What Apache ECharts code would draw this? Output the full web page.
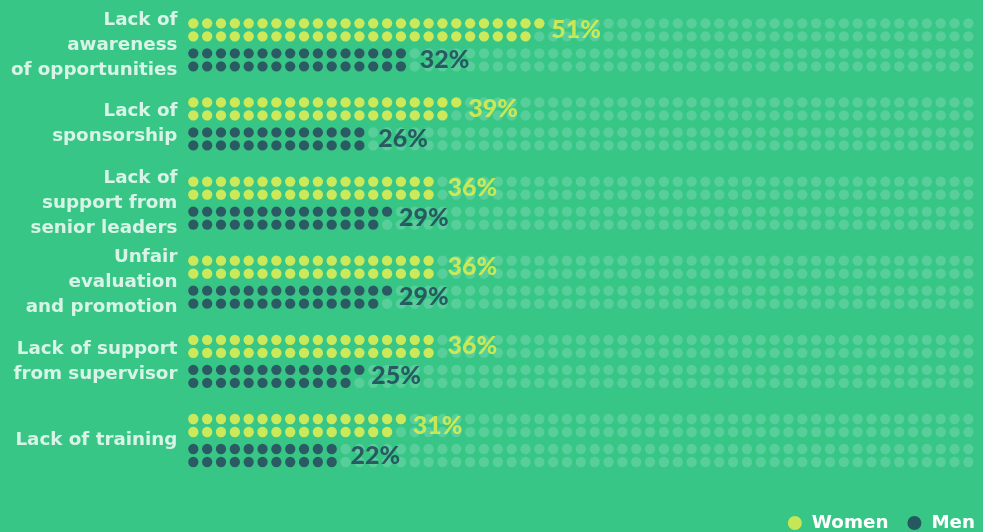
<!DOCTYPE html>
<html>
<head>
<meta charset="utf-8">
<script src="https://cdn.jsdelivr.net/npm/echarts@6/dist/echarts.min.js"></script>
<style>
html,body{margin:0;padding:0;background:#38c687;}
#chart{width:983px;height:532px;}
</style>
</head>
<body>
<div id="chart"></div>
<script>
// ---- data ----
const categories = [
  'Lack of\nawareness\nof opportunities',
  'Lack of\nsponsorship',
  'Lack of\nsupport from\nsenior leaders',
  'Unfair\nevaluation\nand promotion',
  'Lack of support\nfrom supervisor',
  'Lack of training'
];
const women = [51, 39, 36, 36, 36, 31];
const men = [32, 26, 29, 29, 25, 22];
const seriesNames = ['Women', 'Men'];

// ---- layout / style ----
const DOTS_PER_ROW = 57;
const OFF = { wTop: -0.2716, wBot: -0.1074, mTop: 0.1074, mBot: 0.2716 };
const C_BG = '#38c687', C_Y = '#e8ef48', C_D = '#1f3d55', C_EMPTY = 'rgba(255,255,255,0.2)';
const DOT = 10.3;
const CAT_FONT = 'DejaVu Sans';

function dotRows(values, offTop, offBot) {
  const d = [];
  values.forEach((v, g) => {
    const top = Math.ceil(v / 2), bot = Math.floor(v / 2);
    for (let i = 0; i < top; i++) d.push([i, g + offTop]);
    for (let i = 0; i < bot; i++) d.push([i, g + offBot]);
  });
  return d;
}
const emptyDots = [];
categories.forEach((c, g) => {
  [OFF.wTop, OFF.wBot, OFF.mTop, OFF.mBot].forEach(o => {
    for (let i = 0; i < DOTS_PER_ROW; i++) emptyDots.push([i, g + o]);
  });
});
const labelPts = (values, off) => values.map((v, g) => [v / 2, g + off, v]);

const pctLabel = color => ({
  show: true, position: 'right', distance: 5,
  formatter: p => p.value[2] + '%',
  color: color, fontFamily: 'Lato', fontWeight: 900, fontSize: 25
});

const chart = echarts.init(document.getElementById('chart'), null, { renderer: 'canvas' });
chart.setOption({
  backgroundColor: C_BG,
  animation: false,
  grid: { left: 186.4, width: 788.9, top: 5.23, height: 514.4 },
  xAxis: { type: 'value', min: -0.5, max: DOTS_PER_ROW - 0.5, show: false },
  yAxis: { type: 'value', min: -0.5, max: 6, inverse: true, show: false },
  legend: {
    data: seriesNames, right: 3, bottom: -5, itemWidth: 14, itemHeight: 14, itemGap: 19,
    icon: 'circle',
    textStyle: { color: '#ffffff', fontFamily: CAT_FONT, fontWeight: 'bold', fontSize: 18.3, padding: [0, 0, 0, 5] }
  },
  series: [
    { type: 'scatter', name: 'empty', symbolSize: DOT, data: emptyDots, itemStyle: { color: C_EMPTY }, silent: true },
    { type: 'scatter', name: seriesNames[0], symbolSize: DOT, data: dotRows(women, OFF.wTop, OFF.wBot), itemStyle: { color: C_Y } },
    { type: 'scatter', name: seriesNames[1], symbolSize: DOT, data: dotRows(men, OFF.mTop, OFF.mBot), itemStyle: { color: C_D } },
    { type: 'scatter', name: 'wl', symbolSize: 0, data: labelPts(women, (OFF.wTop + OFF.wBot) / 2), label: pctLabel(C_Y), itemStyle: { color: C_Y } },
    { type: 'scatter', name: 'ml', symbolSize: 0, data: labelPts(men, (OFF.mTop + OFF.mBot) / 2), label: pctLabel(C_D), itemStyle: { color: C_D } },
    {
      type: 'scatter', name: 'cats', symbolSize: 0,
      data: categories.map((c, g) => [-0.5, g, c]),
      label: {
        show: true, position: 'left', distance: 9, align: 'right',
        formatter: p => p.value[2],
        color: '#ffffff', fontFamily: CAT_FONT, fontWeight: 'bold', fontSize: 18.3, lineHeight: 25
      }
    }
  ]
});
</script>
</body>
</html>
